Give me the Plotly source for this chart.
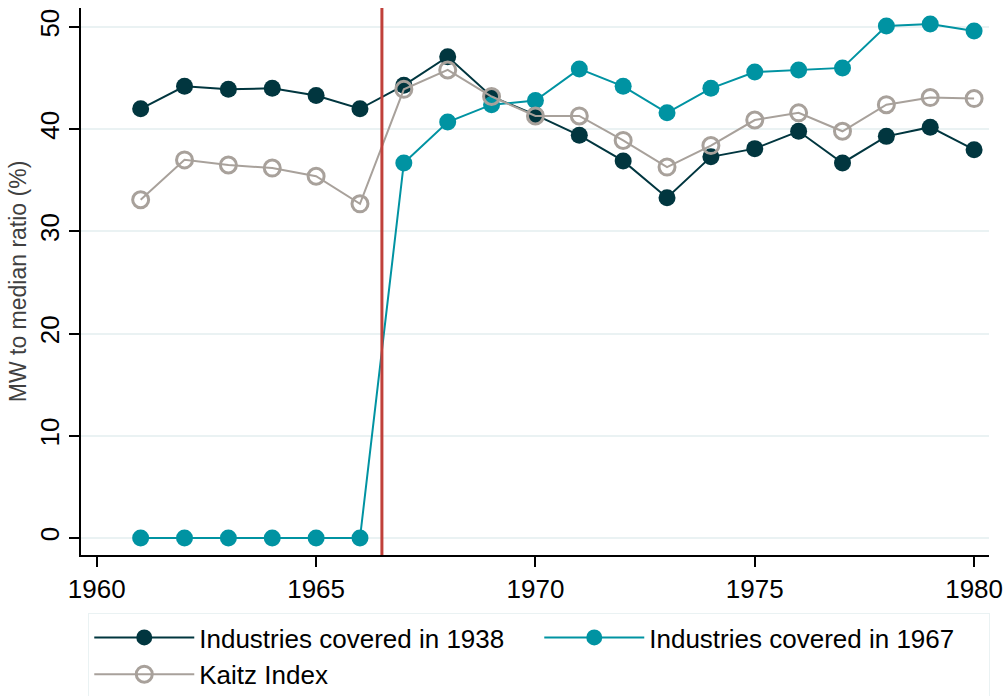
import plotly.graph_objects as go

years = list(range(1961, 1981))

covered_1938 = [42.0, 44.2, 43.9, 44.0, 43.3, 42.0, 44.3, 47.1, 43.2, 41.4,
                39.4, 36.9, 33.3, 37.3, 38.1, 39.8, 36.7, 39.3, 40.2, 38.0]
covered_1967 = [0, 0, 0, 0, 0, 0, 36.7, 40.7, 42.4, 42.8,
                45.9, 44.2, 41.6, 44.0, 45.6, 45.8, 46.0, 50.1, 50.3, 49.6]
kaitz = [33.1, 37.0, 36.5, 36.2, 35.4, 32.7, 43.9, 45.8, 43.2, 41.3,
         41.3, 38.9, 36.3, 38.4, 40.9, 41.6, 39.8, 42.4, 43.1, 43.0]

x_ticks = [1960, 1965, 1970, 1975, 1980]
y_ticks = [0, 10, 20, 30, 40, 50]

font = "Liberation Sans, Arial, sans-serif"

fig = go.Figure()

fig.add_trace(go.Scatter(
    x=years, y=covered_1938, name="Industries covered in 1938",
    mode="lines+markers",
    line=dict(color="#01363F", width=2),
    marker=dict(color="#01363F", size=17),
))
fig.add_trace(go.Scatter(
    x=years, y=covered_1967, name="Industries covered in 1967",
    mode="lines+markers",
    line=dict(color="#0093A2", width=2),
    marker=dict(color="#0093A2", size=17),
))
fig.add_trace(go.Scatter(
    x=years, y=kaitz, name="Kaitz Index",
    mode="lines+markers",
    line=dict(color="#A8A19B", width=2),
    marker=dict(symbol="circle-open", color="#A8A19B", size=16, line=dict(width=3)),
))

fig.add_vline(x=1966.5, line=dict(color="#C0403A", width=3))

fig.update_layout(
    width=1005, height=696,
    paper_bgcolor="white", plot_bgcolor="white",
    margin=dict(l=81, r=16, t=8, b=141, autoexpand=False),
    font=dict(family=font, size=26, color="black"),
    showlegend=True,
    legend=dict(
        orientation="h", x=0.008, xanchor="left", y=-0.106, yanchor="top",
        bordercolor="#EAF2F3", borderwidth=1, bgcolor="white",
        font=dict(size=26, color="black"),
        itemwidth=100, entrywidth=335, tracegroupgap=0,
    ),
)

fig.update_xaxes(
    range=[1959.64, 1980.34], tickvals=x_ticks,
    showline=True, linecolor="black", linewidth=1.5,
    ticks="outside", ticklen=10, tickcolor="black", tickwidth=1.5,
    showgrid=False, zeroline=False,
)
fig.update_yaxes(
    range=[-1.66, 51.86], tickvals=y_ticks, tickangle=-90,
    showline=True, linecolor="black", linewidth=1.5,
    ticks="outside", ticklen=10, tickcolor="black", tickwidth=1.5,
    showgrid=True, gridcolor="#EAF2F3", gridwidth=2, zeroline=False,
    title=dict(text="MW to median ratio (%)", font=dict(size=23, color="#404040"), standoff=2),
)

# drop the page's default body margin so the figure sits at the window corner
fig.write_html("out.html", config={"displayModeBar": False},
               post_script="document.body.style.margin='0';")
